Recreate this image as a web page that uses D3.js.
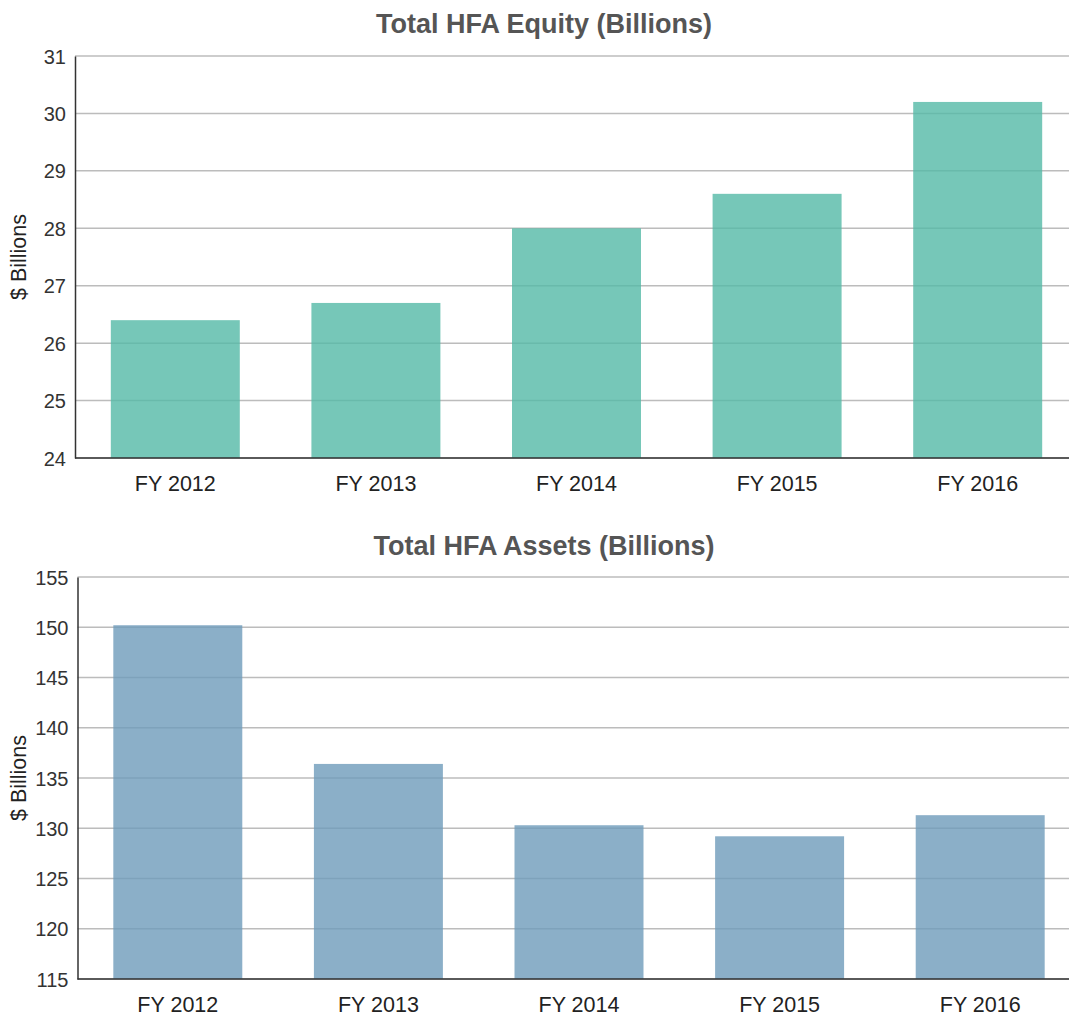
<!DOCTYPE html>
<html><head><meta charset="utf-8">
<script src="https://cdn.jsdelivr.net/npm/d3@7"></script>
<style>
body{margin:0;background:#fff;}
text{font-family:"Liberation Sans",Arial,sans-serif;}
</style></head>
<body>
<svg id="c" width="1069" height="1017"></svg>
<script>
const categories = ["FY 2012","FY 2013","FY 2014","FY 2015","FY 2016"];
const equityValues = [26.4, 26.7, 28.0, 28.6, 30.2];
const assetsValues = [150.2, 136.4, 130.3, 129.2, 131.3];
const equityTicks = [24,25,26,27,28,29,30,31];
const assetsTicks = [115,120,125,130,135,140,145,150,155];

const svg = d3.select("#c");

function panel(opt){
  const g = svg.append("g");
  const x = d3.scaleBand().domain(categories).range([opt.left, opt.left+1003]).paddingInner(0.357).paddingOuter(0.1785);
  const y = d3.scaleLinear().domain(opt.domain).range([opt.bottom, opt.top]);
  g.selectAll("line.grid").data(opt.ticks).join("line")
    .attr("x1", opt.left).attr("x2", 1069)
    .attr("y1", d=>y(d)).attr("y2", d=>y(d))
    .attr("stroke", "#bcbcbc").attr("stroke-width", 1.5);
  g.selectAll("rect").data(opt.values).join("rect")
    .attr("x", (d,i)=>x(categories[i])).attr("width", x.bandwidth())
    .attr("y", d=>y(d)).attr("height", d=>opt.bottom - y(d))
    .attr("fill", opt.color).attr("fill-opacity", 0.8);
  const ya = d3.axisLeft(y).tickValues(opt.ticks).tickSize(0).tickPadding(9).tickFormat(d3.format("d"));
  const yg = g.append("g").attr("transform", `translate(${opt.left},0)`).call(ya);
  yg.select(".domain").attr("stroke", "#333").attr("stroke-width", 1.5);
  yg.selectAll("text").attr("font-size", 20).attr("fill", "#333").attr("dy", "0.35em");
  const xa = d3.axisBottom(x).tickSize(0).tickPadding(18);
  const xg = g.append("g").attr("transform", `translate(0,${opt.bottom})`).call(xa);
  xg.select(".domain").attr("d", `M${opt.left},0H1069`).attr("stroke", "#333").attr("stroke-width", 1.5);
  xg.selectAll("text").attr("font-size", 21.5).attr("fill", "#222");
  g.append("text").attr("x", 544).attr("y", opt.titleY).attr("text-anchor", "middle")
    .attr("font-size", 27).attr("font-weight", "bold").attr("fill", "#555").text(opt.title);
  g.append("text").attr("transform", `translate(26,${(opt.top+opt.bottom)/2}) rotate(-90)`)
    .attr("text-anchor", "middle").attr("font-size", 21.5).attr("fill", "#222").text("$ Billions");
}

panel({left:75, top:56, bottom:458, domain:[24,31], ticks:equityTicks, values:equityValues,
  color:"#54b9a6", title:"Total HFA Equity (Billions)", titleY:33});
panel({left:77.5, top:577, bottom:979, domain:[115,155], ticks:assetsTicks, values:assetsValues,
  color:"#6e9bba", title:"Total HFA Assets (Billions)", titleY:555});
</script>
</body></html>
